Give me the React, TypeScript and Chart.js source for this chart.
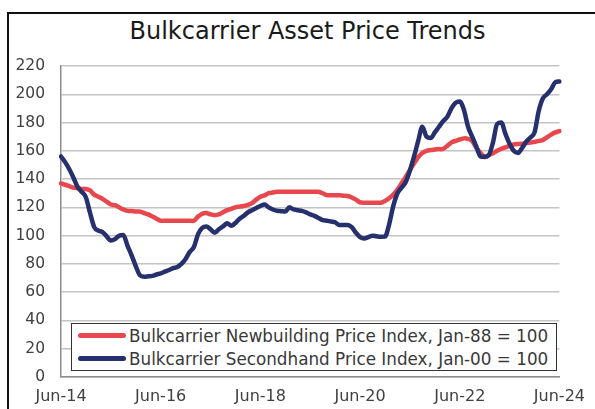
import React, { useEffect, useRef } from "react";
import { Chart, registerables } from "chart.js";

Chart.register(...registerables);

const TITLE = "Bulkcarrier Asset Price Trends";
const NEWBUILD_LABEL = "Bulkcarrier Newbuilding Price Index, Jan-88 = 100";
const SECONDHAND_LABEL = "Bulkcarrier Secondhand Price Index, Jan-00 = 100";

const MONTHS = ["Jan", "Feb", "Mar", "Apr", "May", "Jun", "Jul", "Aug", "Sep", "Oct", "Nov", "Dec"];
const START_MONTH_INDEX = 5; // Jun
const START_YEAR = 14;
const TICK_LABELS = ["Jun-14", "Jun-16", "Jun-18", "Jun-20", "Jun-22", "Jun-24"];
const Y_TICKS_MIN = 0;
const Y_TICKS_MAX = 220;
const Y_STEP = 20;

// Monthly values Jun-14 .. Jun-24
const NEWBUILDING = [
  137, 136, 135, 134, 133.5, 133, 133, 132, 129, 127.5,
  126, 124, 122, 121.5, 120, 118.5, 117.5, 117.5, 117, 117,
  116, 115, 113.5, 112, 110.5, 110.5, 110.5, 110.5, 110.5, 110.5,
  110.5, 110.5, 110.5, 113.5, 115.5, 116, 115, 114.5, 115, 116.5,
  118, 119, 120, 120.5, 121, 121.7, 123, 125.5, 127.5, 128.5,
  130, 130.5, 131, 131, 131, 131, 131, 131, 131, 131,
  131, 131, 131, 130, 128.7, 128.5, 128.5, 128.5, 128.2, 128,
  127, 125.5, 123.5, 123.3, 123.3, 123.3, 123.3, 123.3, 124.5, 126.5,
  129, 132.5, 137, 141.5, 146.4, 151, 155.6, 158.5, 160, 160.5,
  161, 161.2, 161.3, 163.5, 166, 167, 168, 168.8, 168.5, 167,
  162, 158.5, 155.5, 157, 158.3, 160, 161.5, 162.5, 163.5, 164.5,
  164.8, 165, 165.5, 165.8, 166.3, 167, 167.6, 169.5, 171.5, 173,
  174,
];

const SECONDHAND = [
  156, 152, 147, 141, 134.5, 131, 127, 116, 106, 103.5,
  102.5, 99.5, 96.5, 97.5, 100, 100.5, 93, 86, 78.5, 72,
  71, 71.2, 71.5, 72.5, 73.3, 74.5, 75.7, 77, 77.8, 80,
  83.5, 88.5, 92, 101, 105.5, 106.5, 104.5, 102, 104.5, 106.5,
  108.7, 107, 109, 112, 114, 116.5, 118, 119.5, 121, 122,
  120, 118.5, 117.6, 117.3, 117, 120, 118.5, 118, 117.5, 116.5,
  115, 114, 112.5, 111, 110.5, 110, 109.5, 107.5, 107.5, 107.5,
  106, 102, 99, 98, 99, 100, 99.5, 99.2, 99.3, 108,
  121, 130, 134, 138, 146, 156, 167, 177, 170, 169,
  173, 177, 181, 184, 190, 194, 194.8, 189, 177, 170,
  163, 156, 155.8, 157, 166, 179, 180, 172, 165, 160,
  158.5, 162, 166.5, 169.5, 173, 188, 197, 200, 203.5, 208.5,
  209,
];

const RED = "#E8484D";
const NAVY = "#26306D";
const FONT = "'DejaVu Sans', sans-serif";

const LABELS = NEWBUILDING.map((_, i) => {
  const t = START_MONTH_INDEX + i;
  const yy = START_YEAR + Math.floor(t / 12);
  return `${MONTHS[t % 12]}-${String(yy).padStart(2, "0")}`;
});

export default function App() {
  const canvasRef = useRef<HTMLCanvasElement | null>(null);

  useEffect(() => {
    if (!canvasRef.current) return;
    const chart = new Chart(canvasRef.current, {
      type: "line",
      data: {
        labels: LABELS,
        datasets: [
          {
            label: SECONDHAND_LABEL,
            data: SECONDHAND,
            borderColor: NAVY,
            borderWidth: 4.5,
            pointRadius: 0,
            tension: 0.35,
            cubicInterpolationMode: "monotone",
            borderCapStyle: "round",
            borderJoinStyle: "round",
          },
          {
            label: NEWBUILD_LABEL,
            data: NEWBUILDING,
            borderColor: RED,
            borderWidth: 4.5,
            pointRadius: 0,
            tension: 0.2,
            borderCapStyle: "round",
            borderJoinStyle: "round",
          },
        ],
      },
      options: {
        responsive: false,
        animation: false,
        devicePixelRatio: 1,
        layout: { padding: { top: 66, right: 33, bottom: 0, left: 0 } },
        plugins: {
          legend: { display: false },
          title: { display: false },
          tooltip: { enabled: false },
        },
        scales: {
          x: {
            type: "category",
            offset: false,
            grid: { display: false, drawTicks: false },
            border: { display: true, color: "#8C8C8C", width: 1.5 },
            ticks: {
              autoSkip: false,
              maxRotation: 0,
              minRotation: 0,
              padding: 10,
              color: "#404040",
              font: { family: FONT, size: 16 },
              callback: function (this: any, val: any) {
                const lab = this.getLabelForValue(val);
                return TICK_LABELS.includes(lab) ? lab : null;
              },
            },
            afterFit: (scale: any) => {
              scale.height = 32;
            },
          },
          y: {
            min: Y_TICKS_MIN,
            max: Y_TICKS_MAX,
            grid: { color: "#C4C4C4", lineWidth: 1.5, drawTicks: false },
            border: { display: true, color: "#8C8C8C", width: 1.5 },
            ticks: {
              stepSize: Y_STEP,
              padding: 16,
              color: "#404040",
              font: { family: FONT, size: 15.5 },
            },
            afterFit: (scale: any) => {
              scale.width = 61;
            },
          },
        },
      },
    });
    return () => chart.destroy();
  }, []);

  const legendRow = (color: string, text: string) => (
    <div style={{ display: "flex", alignItems: "center", height: 24 }}>
      <div
        style={{
          width: 48,
          height: 5,
          borderRadius: 3,
          background: color,
          marginLeft: 6,
          marginRight: 3,
        }}
      />
      <span style={{ fontFamily: FONT, fontSize: 16.8, color: "#383838", whiteSpace: "nowrap" }}>{text}</span>
    </div>
  );

  return (
    <div
      style={{
        position: "absolute",
        left: 0,
        top: 0,
        width: 595,
        height: 409,
        overflow: "hidden",
        background: "#fff",
      }}
    >
      <div
        style={{
          position: "absolute",
          left: 7,
          top: 12,
          width: 640,
          height: 440,
          border: "2px solid #111",
          boxSizing: "border-box",
        }}
      />
      <div
        style={{
          position: "absolute",
          left: 0,
          top: 15,
          width: 615,
          textAlign: "center",
          fontFamily: FONT,
          fontSize: 24,
          color: "#1A1A1A",
          lineHeight: "32px",
        }}
      >
        {TITLE}
      </div>
      <canvas
        ref={canvasRef}
        width={595}
        height={409}
        style={{ position: "absolute", left: 0, top: 0, width: 595, height: 409 }}
      />
      <div
        style={{
          position: "absolute",
          left: 71,
          top: 323,
          width: 486,
          height: 48,
          border: "1.5px solid #333",
          boxSizing: "border-box",
          background: "#fff",
          display: "flex",
          flexDirection: "column",
          justifyContent: "center",
        }}
      >
        {legendRow(RED, NEWBUILD_LABEL)}
        {legendRow(NAVY, SECONDHAND_LABEL)}
      </div>
    </div>
  );
}
